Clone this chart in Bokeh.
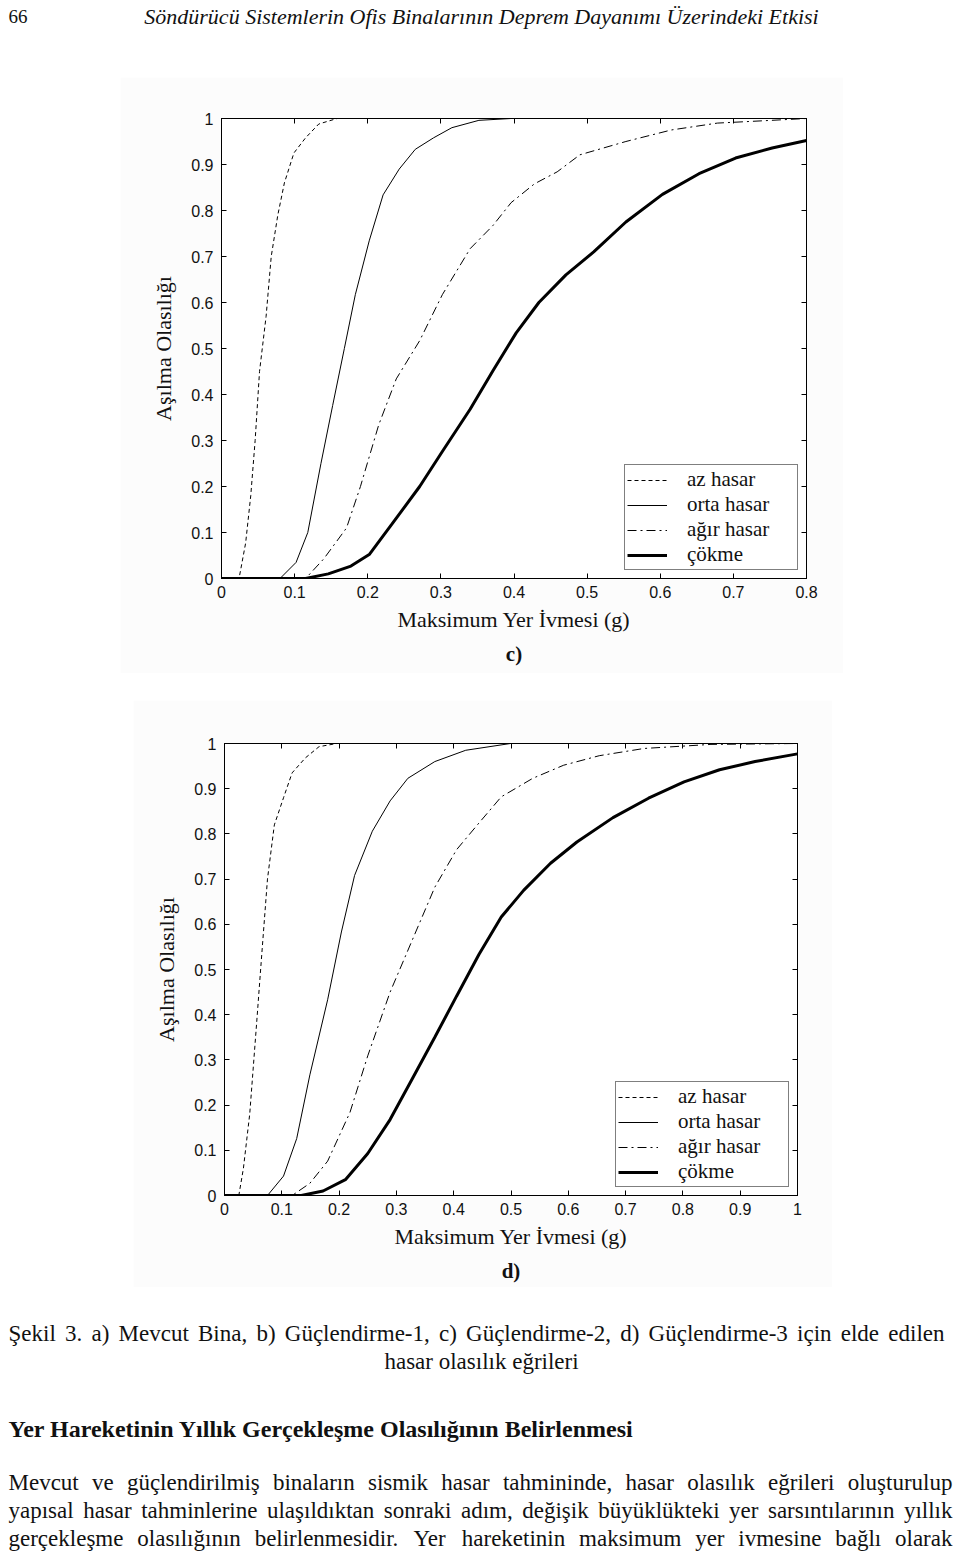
from bokeh.plotting import figure
from bokeh.models import (Range1d, LinearAxis, FixedTicker, CustomJSTickFormatter,
                          Legend, LegendItem, Title, Spacer)
from bokeh.layouts import column, row
from bokeh.core.properties import value
from bokeh.embed import file_html
from bokeh.resources import INLINE

# ---------------- data ----------------
series_names = ["az hasar", "orta hasar", "ağır hasar", "çökme"]

# panel c)
c_az_x = [0, 0.024, 0.033, 0.040, 0.046, 0.052, 0.061, 0.068, 0.077, 0.086, 0.099, 0.115, 0.133, 0.158]
c_az_y = [0, 0, 0.077, 0.18, 0.30, 0.45, 0.57, 0.70, 0.79, 0.86, 0.925, 0.958, 0.988, 1.0]
c_orta_x = [0, 0.08, 0.102, 0.118, 0.136, 0.152, 0.168, 0.183, 0.202, 0.221, 0.243, 0.265, 0.29, 0.315, 0.352, 0.396]
c_orta_y = [0, 0, 0.035, 0.10, 0.25, 0.376, 0.50, 0.617, 0.734, 0.834, 0.89, 0.933, 0.958, 0.98, 0.996, 1.0]
c_agir_x = [0, 0.115, 0.14, 0.171, 0.19, 0.215, 0.239, 0.271, 0.302, 0.34, 0.371, 0.396, 0.428, 0.459, 0.49, 0.553, 0.615, 0.678, 0.74, 0.8]
c_agir_y = [0, 0, 0.043, 0.11, 0.20, 0.334, 0.434, 0.517, 0.617, 0.717, 0.767, 0.817, 0.858, 0.884, 0.921, 0.95, 0.975, 0.99, 0.995, 1.0]
c_cok_x = [0, 0.115, 0.146, 0.177, 0.202, 0.233, 0.271, 0.302, 0.34, 0.371, 0.403, 0.434, 0.471, 0.509, 0.553, 0.603, 0.653, 0.703, 0.753, 0.8]
c_cok_y = [0, 0, 0.01, 0.027, 0.052, 0.118, 0.20, 0.276, 0.368, 0.451, 0.534, 0.60, 0.66, 0.71, 0.775, 0.835, 0.88, 0.914, 0.936, 0.952]

# panel d)
d_az_x = [0, 0.025, 0.033, 0.044, 0.056, 0.064, 0.075, 0.087, 0.103, 0.118, 0.141, 0.165, 0.196]
d_az_y = [0, 0, 0.06, 0.18, 0.38, 0.516, 0.70, 0.82, 0.88, 0.935, 0.968, 0.993, 1.0]
d_orta_x = [0, 0.075, 0.103, 0.126, 0.149, 0.18, 0.204, 0.227, 0.258, 0.289, 0.32, 0.367, 0.421, 0.499]
d_orta_y = [0, 0, 0.043, 0.126, 0.267, 0.433, 0.583, 0.708, 0.806, 0.873, 0.923, 0.96, 0.985, 1.0]
d_agir_x = [0, 0.118, 0.149, 0.18, 0.219, 0.25, 0.289, 0.328, 0.367, 0.405, 0.444, 0.483, 0.538, 0.592, 0.654, 0.732, 0.849, 1.0]
d_agir_y = [0, 0, 0.027, 0.076, 0.184, 0.309, 0.45, 0.566, 0.682, 0.765, 0.824, 0.882, 0.923, 0.952, 0.973, 0.989, 0.998, 1.0]
d_cok_x = [0, 0.134, 0.172, 0.211, 0.25, 0.289, 0.328, 0.367, 0.405, 0.444, 0.483, 0.522, 0.569, 0.615, 0.678, 0.74, 0.802, 0.864, 0.926, 1.0]
d_cok_y = [0, 0, 0.01, 0.035, 0.093, 0.168, 0.259, 0.35, 0.441, 0.533, 0.616, 0.675, 0.735, 0.782, 0.836, 0.879, 0.915, 0.942, 0.96, 0.977]

c_x_ticks = [0, 0.1, 0.2, 0.3, 0.4, 0.5, 0.6, 0.7, 0.8]
d_x_ticks = [0, 0.1, 0.2, 0.3, 0.4, 0.5, 0.6, 0.7, 0.8, 0.9, 1]
y_ticks = [0, 0.1, 0.2, 0.3, 0.4, 0.5, 0.6, 0.7, 0.8, 0.9, 1]

x_label = "Maksimum Yer İvmesi (g)"
y_label = "Aşılma Olasılığı"

page_number = "66"
running_head = "Söndürücü Sistemlerin Ofis Binalarının Deprem Dayanımı Üzerindeki Etkisi"
caption_lines = ["Şekil 3. a) Mevcut Bina, b) Güçlendirme-1, c) Güçlendirme-2, d) Güçlendirme-3 için elde edilen",
                 "hasar olasılık eğrileri"]
heading = "Yer Hareketinin Yıllık Gerçekleşme Olasılığının Belirlenmesi"
paragraph_lines = [
    "Mevcut ve güçlendirilmiş binaların sismik hasar tahmininde, hasar olasılık eğrileri oluşturulup",
    "yapısal hasar tahminlerine ulaşıldıktan sonraki adım, değişik büyüklükteki yer sarsıntılarının yıllık",
    "gerçekleşme olasılığının belirlenmesidir. Yer hareketinin maksimum yer ivmesine bağlı olarak",
]

# ---------------- styles ----------------
SERIF = "Liberation Serif"
SANS = "Liberation Sans"
styles = [dict(line_width=1, line_dash="4 3"),
          dict(line_width=1),
          dict(line_width=1, line_dash="9 4 2 4"),
          dict(line_width=3)]

tick_fmt = CustomJSTickFormatter(code="return tick.toFixed(1).replace(/\\.0$/, '');")


def make_chart(width, height, bl, br, bt, bb, xmax, xticks, data, tag):
    p = figure(width=width, height=height, x_range=Range1d(0, xmax), y_range=Range1d(0, 1),
               output_backend="svg", toolbar_location=None, tools="",
               x_axis_type=None, y_axis_type=None,
               min_border_left=bl, min_border_right=br, min_border_top=bt, min_border_bottom=bb,
               background_fill_color="white", border_fill_color="#fcfcfc",
               outline_line_color="black", outline_line_width=1)
    for loc, ticks in (("below", xticks), ("left", y_ticks), ("above", xticks), ("right", y_ticks)):
        main = loc in ("below", "left")
        ax = LinearAxis(ticker=FixedTicker(ticks=ticks),
                        formatter=tick_fmt if main else CustomJSTickFormatter(code="return '';"),
                        major_tick_in=5, major_tick_out=0, minor_tick_line_color=None,
                        axis_line_color="black", major_tick_line_color="black",
                        major_label_text_font=SANS, major_label_text_font_size="16px",
                        major_label_text_color="#111",
                        major_label_standoff=(7 if loc == "below" else 8) if main else 0)
        if loc == "below":
            ax.axis_label = x_label
            ax.axis_label_standoff = 6
        elif loc == "left":
            ax.axis_label = y_label
            ax.axis_label_standoff = 12
        ax.axis_label_text_font = SERIF
        ax.axis_label_text_font_size = "22px"
        ax.axis_label_text_font_style = "normal"
        ax.axis_label_text_color = "#111"
        p.add_layout(ax, loc)
    p.add_layout(Title(text=tag, align="center", text_font=SERIF, text_font_size="21px",
                       text_font_style="bold", text_color="#111", standoff=10), "below")
    items = []
    for name, (xs, ys), st in zip(series_names, data, styles):
        r = p.line(xs, ys, line_color="black", **st)
        items.append(LegendItem(label=name, renderers=[r]))
    leg = Legend(items=items, location="bottom_right", margin=8, padding=2, spacing=0,
                 glyph_width=40, glyph_height=20, label_height=20, label_width=108,
                 label_standoff=20, label_text_font=SERIF, label_text_font_size="21px",
                 label_text_color="#111",
                 border_line_color="black", border_line_width=1, background_fill_color="white",
                 background_fill_alpha=1)
    p.add_layout(leg)
    return p


pc = make_chart(723, 596, 101, 37, 41, 95, 0.8, c_x_ticks,
                [(c_az_x, c_az_y), (c_orta_x, c_orta_y), (c_agir_x, c_agir_y), (c_cok_x, c_cok_y)], "c)")
pd_ = make_chart(699, 587, 91, 35, 43, 90, 1.0, d_x_ticks,
                 [(d_az_x, d_az_y), (d_orta_x, d_orta_y), (d_agir_x, d_agir_y), (d_cok_x, d_cok_y)], "d)")

# ---------------- text figures ----------------
W = {" ": 250, "!": 333, "(": 333, ")": 333, ",": 250, "-": 333, ".": 250, ":": 278, ";": 278, "?": 444}
for ch in "0123456789":
    W[ch] = 500
for ch, w in zip("ABCDEFGHIJKLMNOPQRSTUVWXYZ",
                 [722, 667, 667, 722, 611, 556, 722, 722, 333, 389, 722, 611, 889, 722, 722, 556, 722, 667,
                  556, 611, 722, 722, 944, 722, 722, 611]):
    W[ch] = w
for ch, w in zip("abcdefghijklmnopqrstuvwxyz",
                 [444, 500, 444, 500, 444, 333, 500, 500, 278, 278, 500, 278, 778, 500, 500, 500, 500, 333,
                  389, 278, 500, 500, 722, 500, 500, 444]):
    W[ch] = w
W.update({"ş": 389, "ç": 444, "ğ": 500, "ı": 278, "ü": 500, "ö": 500, "İ": 333, "Ş": 556,
          "Ç": 667, "Ğ": 722, "Ü": 722, "Ö": 722})


def text_width(s, size):
    return sum(W.get(ch, 500) for ch in s) / 1000.0 * size


def justify(line, y, size, left, right):
    words = line.split(" ")
    widths = [text_width(w, size) for w in words]
    gap = (right - left - sum(widths)) / (len(words) - 1)
    xs, x = [], left
    for wd in widths:
        xs.append(x)
        x += wd + gap
    return xs, [y] * len(words), words


def blank_fig(h):
    f = figure(width=960, height=h, x_range=Range1d(0, 960), y_range=Range1d(h, 0),
               output_backend="svg", toolbar_location=None, tools="",
               x_axis_type=None, y_axis_type=None, min_border=0,
               outline_line_color=None, background_fill_color="white", border_fill_color="white")
    return f


head = blank_fig(77)
head.text(x=[8], y=[16], text=[page_number], text_font=value(SERIF), text_font_size="19px",
          text_baseline="middle", text_align="left", text_color="#111")
head.text(x=[481], y=[16], text=[running_head], text_font=value(SERIF), text_font_size="22px",
          text_font_style="italic", text_baseline="middle", text_align="center", text_color="#111")

TXT = 23
tf = blank_fig(266)
xs, ys, ws = justify(caption_lines[0], 46, TXT, 8, 944)
tf.text(x=xs, y=ys, text=ws, text_font=value(SERIF), text_font_size=f"{TXT}px",
        text_baseline="middle", text_align="left", text_color="#111")
tf.text(x=[481], y=[74], text=[caption_lines[1]], text_font=value(SERIF), text_font_size=f"{TXT}px",
        text_baseline="middle", text_align="center", text_color="#111")
tf.text(x=[8], y=[141], text=[heading], text_font=value(SERIF), text_font_size="24px",
        text_font_style="bold", text_baseline="middle", text_align="left", text_color="#111")
for line, yy in zip(paragraph_lines, [195, 223, 251]):
    xs, ys, ws = justify(line, yy, TXT, 8, 952)
    tf.text(x=xs, y=ys, text=ws, text_font=value(SERIF), text_font_size=f"{TXT}px",
            text_baseline="middle", text_align="left", text_color="#111")

layout = column(head,
                row(Spacer(width=120, height=596), pc),
                Spacer(width=960, height=27),
                row(Spacer(width=133, height=587), pd_),
                tf)

open("out.html", "w").write(file_html(layout, INLINE))
